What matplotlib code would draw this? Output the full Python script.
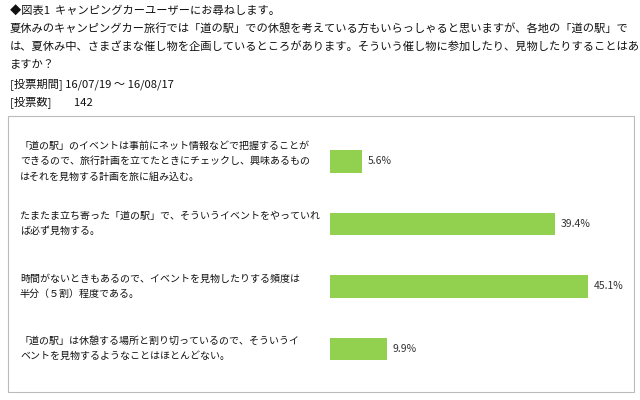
import matplotlib
matplotlib.use("Agg")
import matplotlib.pyplot as plt
from matplotlib.patches import Rectangle
import matplotlib.transforms as mtrans

plt.rcParams["font.family"] = "Noto Sans CJK JP"

categories = [
    "「道の駅」のイベントは事前にネット情報などで把握することが\nできるので、旅行計画を立てたときにチェックし、興味あるもの\nはそれを見物する計画を旅に組み込む。",
    "たまたま立ち寄った「道の駅」で、そういうイベントをやっていれ\nば必ず見物する。",
    "時間がないときもあるので、イベントを見物したりする頻度は\n半分（５割）程度である。",
    "「道の駅」は休憩する場所と割り切っているので、そういうイ\nベントを見物するようなことはほとんどない。",
]
values = [5.6, 39.4, 45.1, 9.9]
header = [
    "◆図表1  キャンピングカーユーザーにお尋ねします。",
    "夏休みのキャンピングカー旅行では「道の駅」での休憩を考えている方もいらっしゃると思いますが、各地の「道の駅」で",
    "は、夏休み中、さまざまな催し物を企画しているところがあります。そういう催し物に参加したり、見物したりすることはあり",
    "ますか？",
    "[投票期間] 16/07/19 ～ 16/08/17",
    "[投票数]         142",
]

W, H = 640, 400
fig = plt.figure(figsize=(6.4, 4.0), dpi=100)
fig.patch.set_facecolor("white")

ys = [10, 28, 46, 64, 84, 102]
for t, y in zip(header, ys):
    fig.text(10 / W, 1 - y / H, t, fontsize=8.1, va="center", ha="left", color="#111111")

fig.patches.append(Rectangle((8 / W, 8 / H), 626 / W, 276 / H, transform=fig.transFigure,
                             fill=False, edgecolor="#bbbbbb", linewidth=0.8))

ax = fig.add_axes([330 / W, 20 / H, 286 / W, 250 / H])
pos = list(range(len(values)))
ax.barh(pos, values, height=0.36, color="#92d050")
ax.set_xlim(0, 50)
ax.set_ylim(3.5, -0.5)
ax.axis("off")
for p, v in zip(pos, values):
    ax.text(v + 1.0, p, f"{v}%", va="center", ha="left", fontsize=7.5, color="#333333")

trans = mtrans.blended_transform_factory(fig.transFigure, ax.transData)
for p, c in zip(pos, categories):
    ax.text(20 / W, p, c, transform=trans, va="center", ha="left", fontsize=7.2,
            linespacing=1.65, color="#111111", clip_on=False)

fig.savefig("out.png", dpi=100)
